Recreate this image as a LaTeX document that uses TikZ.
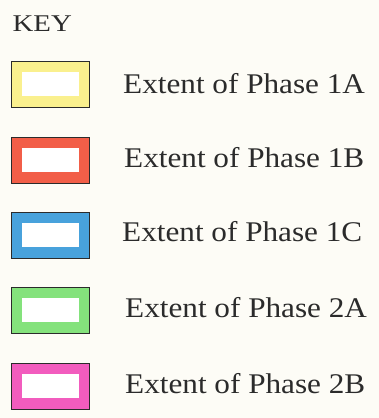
\documentclass[tikz,border=0pt]{standalone}
\usepackage{fontspec}
\setmainfont{Liberation Serif}
\definecolor{paper}{HTML}{FDFCF6}
\definecolor{ink}{HTML}{2B2B2B}
\definecolor{phaseOneA}{HTML}{FAF08E}
\definecolor{phaseOneB}{HTML}{F25E48}
\definecolor{phaseOneC}{HTML}{48A2DC}
\definecolor{phaseTwoA}{HTML}{84E27C}
\definecolor{phaseTwoB}{HTML}{F25CBE}
\begin{document}
\begin{tikzpicture}[x=1pt, y=-1pt,
  swatch/.style={draw=ink, line width=1.3pt, fill=#1, minimum width=78pt,
    minimum height=46pt, inner sep=0pt, anchor=north west,
    path picture={\fill[white]
      ([shift={(10.5pt,-10pt)}]path picture bounding box.north west) rectangle
      ([shift={(-10.5pt,12pt)}]path picture bounding box.south east);}},
  keytext/.style={anchor=base west, inner sep=0pt, text=ink,
    font=\fontsize{28.5}{30}\selectfont}]
  \fill[paper] (0,0) rectangle (379,418);
  \useasboundingbox (0,0) rectangle (379,418);

  \node[anchor=base west, inner sep=0pt, text=ink, font=\fontsize{24}{26}\selectfont]
    (key) at (12.5,31.7) {\scalebox{1.2}[1]{KEY}};

  % swatches and their captions
  \node[swatch=phaseOneA] (s1a) at (11,61) {};
  \node[keytext] (t1a) at (123,93.3) {\scalebox{1.095}[1]{Extent of Phase 1A}};

  \node[swatch=phaseOneB] (s1b) at (11,137) {};
  \node[keytext] (t1b) at (124,167) {\scalebox{1.095}[1]{Extent of Phase 1B}};

  \node[swatch=phaseOneC] (s1c) at (11,212) {};
  \node[keytext] (t1c) at (122,241) {\scalebox{1.095}[1]{Extent of Phase 1C}};

  \node[swatch=phaseTwoA] (s2a) at (11,287) {};
  \node[keytext] (t2a) at (125,317.3) {\scalebox{1.095}[1]{Extent of Phase 2A}};

  \node[swatch=phaseTwoB] (s2b) at (11,363) {};
  \node[keytext] (t2b) at (125,393.3) {\scalebox{1.095}[1]{Extent of Phase 2B}};
\end{tikzpicture}
\end{document}
